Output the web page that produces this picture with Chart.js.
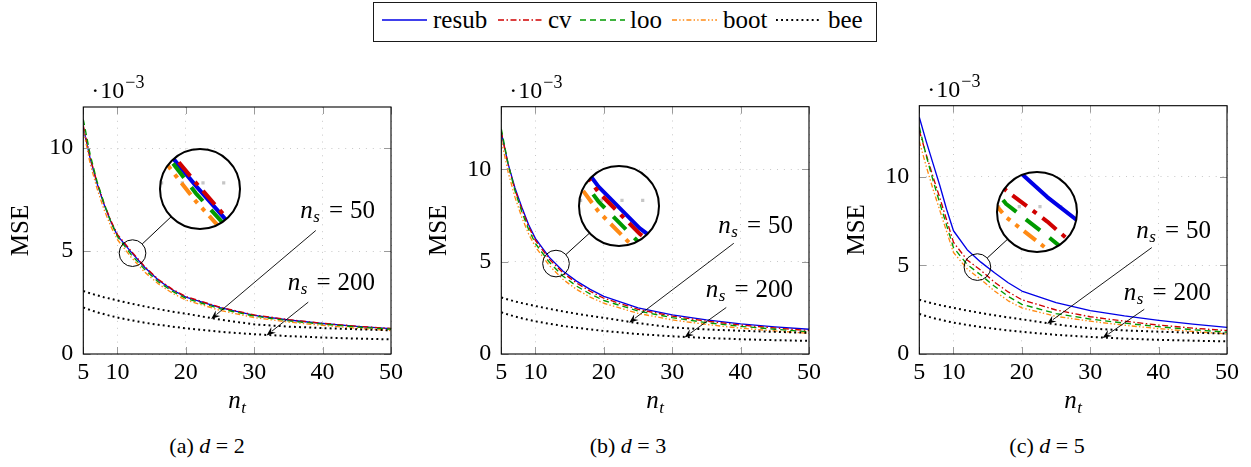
<!DOCTYPE html>
<html>
<head>
<meta charset="utf-8">
<title>MSE vs n_t</title>
<script src="https://cdn.jsdelivr.net/npm/chart.js@4/dist/chart.umd.min.js"></script>
<style>
html,body{margin:0;padding:0;background:#fff;}
body{width:1251px;height:467px;position:relative;overflow:hidden;font-family:"Liberation Serif","DejaVu Serif","Times New Roman",serif;color:#000;}
.pane{position:absolute;top:60px;width:410px;height:370px;}
.pane canvas{position:absolute;left:0;top:0;}
.spy{position:absolute;width:80px;height:80px;border-radius:50%;overflow:hidden;background:#fff;}
.spy canvas{position:absolute;left:0;top:0;}
.ring{position:absolute;width:82px;height:82px;border-radius:50%;border:2.5px solid #000;box-sizing:border-box;}
#legendBox{position:absolute;left:373px;top:2px;width:504px;height:40px;border:1.3px solid #1a1a1a;box-sizing:border-box;}
.lgText{position:absolute;top:7px;font-size:25px;line-height:25px;white-space:nowrap;}
.lgLine{position:absolute;top:15px;}
.cap{position:absolute;top:435px;font-size:22px;line-height:22px;white-space:nowrap;transform:translateX(-50%);}
</style>
</head>
<body>
<div id="legendBox"></div>
<script>
// ---------------- data ----------------
const ntValues    = [5, 6, 7, 8, 9, 10, 12, 14, 16, 18, 20, 25, 30, 35, 40, 45, 50];
const xTickValues = [5, 10, 20, 30, 40, 50];
const yTickValues = [0, 5, 10];
const seriesNames = ['resub', 'cv', 'loo', 'boot', 'bee'];
const panelLetters = ['a', 'b', 'c'];
const dValues = [2, 3, 5];
const yMaxValues = [12, 13.4, 14];
const nsLabels = ['50', '200'];

// d = 2
const resubD2 = [11.0, 9.5, 8.3, 7.3, 6.45, 5.75, 4.95, 4.2, 3.58, 3.12, 2.76, 2.25, 1.88, 1.65, 1.48, 1.34, 1.23];
const cvD2    = [11.1, 9.55, 8.35, 7.35, 6.5, 5.8, 5.0, 4.24, 3.62, 3.15, 2.79, 2.27, 1.9, 1.67, 1.49, 1.35, 1.24];
const looD2   = [11.4, 9.7, 8.4, 7.35, 6.45, 5.7, 4.83, 4.1, 3.5, 3.05, 2.7, 2.2, 1.84, 1.61, 1.45, 1.31, 1.2];
const bootD2  = [10.9, 9.25, 8.05, 7.05, 6.22, 5.55, 4.7, 3.97, 3.4, 2.96, 2.62, 2.12, 1.77, 1.55, 1.39, 1.25, 1.14];
// d = 3
const resubD3 = [12.0, 10.3, 9.0, 7.95, 7.0, 6.25, 5.25, 4.5, 3.95, 3.5, 3.12, 2.5, 2.12, 1.85, 1.63, 1.47, 1.34];
const cvD3    = [12.05, 10.25, 8.9, 7.85, 6.9, 6.15, 5.15, 4.4, 3.85, 3.4, 3.02, 2.42, 2.05, 1.78, 1.57, 1.41, 1.27];
const looD3   = [12.2, 10.3, 8.85, 7.7, 6.75, 5.98, 4.98, 4.23, 3.68, 3.25, 2.9, 2.33, 1.97, 1.7, 1.5, 1.34, 1.2];
const bootD3  = [11.6, 9.85, 8.5, 7.4, 6.5, 5.8, 4.8, 4.05, 3.5, 3.08, 2.75, 2.2, 1.85, 1.6, 1.4, 1.25, 1.12];
// d = 5
const resubD5 = [13.35, 12.0, 10.75, 9.5, 8.15, 6.95, 5.88, 5.18, 4.58, 4.02, 3.55, 2.9, 2.45, 2.15, 1.9, 1.68, 1.5];
const cvD5    = [12.6, 11.25, 10.0, 8.8, 7.55, 6.3, 5.3, 4.72, 4.05, 3.5, 3.06, 2.48, 2.1, 1.85, 1.63, 1.46, 1.32];
const looD5   = [12.8, 11.2, 9.8, 8.5, 7.25, 6.0, 5.05, 4.45, 3.82, 3.25, 2.8, 2.28, 1.97, 1.74, 1.54, 1.37, 1.23];
const bootD5  = [12.0, 10.6, 9.3, 8.1, 6.9, 5.72, 4.8, 4.2, 3.55, 3.0, 2.6, 2.12, 1.85, 1.62, 1.43, 1.27, 1.13];
// bee (same in all panels)
const beeNs50  = [3.06, 2.95, 2.85, 2.76, 2.68, 2.6, 2.45, 2.31, 2.18, 2.06, 1.96, 1.67, 1.44, 1.33, 1.26, 1.2, 1.15];
const beeNs200 = [2.26, 2.14, 2.03, 1.94, 1.85, 1.77, 1.64, 1.52, 1.42, 1.33, 1.25, 1.08, 0.96, 0.87, 0.8, 0.75, 0.71];

const panelSeries = [
  [resubD2, cvD2, looD2, bootD2],
  [resubD3, cvD3, looD3, bootD3],
  [resubD5, cvD5, looD5, bootD5]
];

// ---------------- layout / style ----------------
const FONT = '"Liberation Serif", "DejaVu Serif", "Times New Roman", serif';
const paneLefts = [0, 418.4, 836];
const plotTops = [107, 106.7, 105.7];
const PANE_TOP = 60;
const spyCenters = [[12.2, 4.9], [13.0, 4.9], [13.5, 4.9]];
const bigCenters = [[22.1, 8.0], [22.2, 8.0], [22.2, 8.0]];
const R_SMALL = 13.33, R_BIG = 40;
const arrowCfg = [
  {from: [39, 6.0], to: [23.7, 1.7], labelY: 7.0},
  {from: [37.9, 2.52], to: [31.8, 0.9], labelY: 3.5}
];
const STY = {
  resub: {color: '#0000e6', dash: [], w: 1.35},
  cv:    {color: '#d00000', dash: [6, 2.5, 1.5, 2.5], w: 1.35},
  loo:   {color: '#009a00', dash: [6, 4], w: 1.35},
  boot:  {color: '#ff8a14', dash: [5, 2.2, 1.4, 2.2, 1.4, 2.2], w: 1.35},
  bee:   {color: '#000000', dash: [1.9, 3.2], w: 2}
};

function mkDataset(name, vals, order, k) {
  const s = STY[name];
  return {
    label: name,
    data: ntValues.map((x, idx) => ({x: x, y: vals[idx]})),
    borderColor: s.color,
    backgroundColor: s.color,
    borderWidth: s.w * k,
    borderDash: s.dash.map(v => v * k),
    borderCapStyle: 'butt',
    borderJoinStyle: 'round',
    pointRadius: 0,
    fill: false,
    tension: 0,
    order: order
  };
}
function buildDatasets(i, k) {
  const ser = panelSeries[i];
  const ds = [];
  for (let j = 0; j < 4; j++) ds.push(mkDataset(seriesNames[j], ser[j], 5 - j, k));
  ds.push(mkDataset('bee', beeNs50, 0, k));
  ds.push(mkDataset('bee', beeNs200, 0, k));
  return ds;
}

function drawRuns(ctx, runs, x, y, align) {
  let total = 0;
  runs.forEach(r => { ctx.font = r.font; r.w = ctx.measureText(r.text).width; total += r.w + (r.gap || 0); });
  let cx = align === 'right' ? x - total : (align === 'center' ? x - total / 2 : x);
  runs.forEach(r => { cx += (r.gap || 0); ctx.font = r.font; ctx.fillText(r.text, cx, y + (r.dy || 0)); cx += r.w; });
}

const decor = {
  id: 'decor',
  afterDraw(chart, args, opts) {
    const i = opts.panel;
    const ctx = chart.ctx, a = chart.chartArea, xs = chart.scales.x, ys = chart.scales.y;
    ctx.save();
    ctx.setLineDash([]);
    // tick marks (inward, grey)
    ctx.strokeStyle = '#9a9a9a'; ctx.lineWidth = 1;
    ctx.beginPath();
    xTickValues.forEach(v => {
      const p = Math.round(xs.getPixelForValue(v)) + 0.5;
      ctx.moveTo(p, a.bottom); ctx.lineTo(p, a.bottom - 7);
      ctx.moveTo(p, a.top); ctx.lineTo(p, a.top + 7);
    });
    yTickValues.forEach(v => {
      const p = Math.round(ys.getPixelForValue(v)) + 0.5;
      ctx.moveTo(a.left, p); ctx.lineTo(a.left + 7, p);
      ctx.moveTo(a.right, p); ctx.lineTo(a.right - 7, p);
    });
    ctx.stroke();
    // frame
    ctx.strokeStyle = '#000'; ctx.lineWidth = 1.1;
    ctx.strokeRect(a.left, a.top, a.right - a.left, a.bottom - a.top);

    ctx.fillStyle = '#000'; ctx.textBaseline = 'alphabetic'; ctx.textAlign = 'left';
    // x title n_t
    drawRuns(ctx, [
      {text: 'n', font: 'italic 25px ' + FONT},
      {text: 't', font: 'italic 17px ' + FONT, dy: 5, gap: 0.5}
    ], (a.left + a.right) / 2, a.bottom + 54, 'center');
    // exponent label
    drawRuns(ctx, [
      {text: '\u00b7', font: '24px ' + FONT},
      {text: '10', font: '24px ' + FONT, gap: 1},
      {text: '\u22123', font: '18px ' + FONT, dy: -10, gap: 1}
    ], a.left + 8, a.top - 9, 'left');

    // annotations with arrows
    arrowCfg.forEach((c, k) => {
      const yc = ys.getPixelForValue(c.labelY);
      drawRuns(ctx, [
        {text: 'n', font: 'italic 25px ' + FONT},
        {text: 's', font: 'italic 17px ' + FONT, dy: 4, gap: 0.5},
        {text: '=', font: '25px ' + FONT, gap: 9},
        {text: nsLabels[k], font: '25px ' + FONT, gap: 7}
      ], a.right - 16, yc + 8, 'right');
      const x0 = xs.getPixelForValue(c.from[0]), y0 = ys.getPixelForValue(c.from[1]);
      const x1 = xs.getPixelForValue(c.to[0]), y1 = ys.getPixelForValue(c.to[1]);
      const ang = Math.atan2(y1 - y0, x1 - x0);
      const L = 9, W = 3.6;
      const bx = x1 - L * Math.cos(ang), by = y1 - L * Math.sin(ang);
      ctx.strokeStyle = '#000'; ctx.lineWidth = 0.9;
      ctx.beginPath(); ctx.moveTo(x0, y0); ctx.lineTo(bx + 2 * Math.cos(ang), by + 2 * Math.sin(ang)); ctx.stroke();
      ctx.beginPath();
      ctx.moveTo(x1, y1);
      ctx.lineTo(bx - W * Math.sin(ang), by + W * Math.cos(ang));
      ctx.lineTo(x1 - 0.65 * L * Math.cos(ang), y1 - 0.65 * L * Math.sin(ang));
      ctx.lineTo(bx + W * Math.sin(ang), by - W * Math.cos(ang));
      ctx.closePath(); ctx.fill();
    });

    // spy: small circle + connector
    const sx = xs.getPixelForValue(spyCenters[i][0]), sy = ys.getPixelForValue(spyCenters[i][1]);
    const gx = xs.getPixelForValue(bigCenters[i][0]), gy = ys.getPixelForValue(bigCenters[i][1]);
    const d = Math.hypot(gx - sx, gy - sy), ux = (gx - sx) / d, uy = (gy - sy) / d;
    ctx.strokeStyle = '#000'; ctx.lineWidth = 1;
    ctx.beginPath(); ctx.arc(sx, sy, R_SMALL, 0, Math.PI * 2); ctx.stroke();
    ctx.beginPath();
    ctx.moveTo(sx + ux * R_SMALL, sy + uy * R_SMALL);
    ctx.lineTo(gx - ux * R_BIG, gy - uy * R_BIG);
    ctx.stroke();
    ctx.restore();
  }
};

const insetGrid = {
  id: 'insetGrid',
  beforeDatasetsDraw(chart) {
    const ctx = chart.ctx, xs = chart.scales.x, ys = chart.scales.y;
    ctx.save();
    ctx.strokeStyle = '#c6c6c6'; ctx.lineWidth = 3.2; ctx.setLineDash([3.2, 17.5]);
    yTickValues.forEach(v => {
      if (v > ys.min && v < ys.max) {
        const p = ys.getPixelForValue(v);
        ctx.beginPath(); ctx.moveTo(0, p); ctx.lineTo(chart.width, p); ctx.stroke();
      }
    });
    xTickValues.forEach(v => {
      if (v > xs.min && v < xs.max) {
        const p = xs.getPixelForValue(v);
        ctx.beginPath(); ctx.moveTo(p, 0); ctx.lineTo(p, chart.height); ctx.stroke();
      }
    });
    ctx.restore();
  }
};

function tickSetter(vals) {
  return function (scale) { scale.ticks = vals.map(v => ({value: v})); };
}

function makePanel(i) {
  const pane = document.createElement('div');
  pane.className = 'pane';
  pane.style.left = paneLefts[i] + 'px';
  document.body.appendChild(pane);
  const cv = document.createElement('canvas');
  cv.width = 410; cv.height = 370;
  cv.style.width = '410px'; cv.style.height = '370px';
  pane.appendChild(cv);

  const tickFont = {family: FONT, size: 24};
  const main = new Chart(cv, {
    type: 'line',
    data: {datasets: buildDatasets(i, 1)},
    options: {
      responsive: false, animation: false, devicePixelRatio: 1,
      layout: {padding: {left: 0, right: 19, top: plotTops[i] - PANE_TOP, bottom: 0}},
      plugins: {legend: {display: false}, tooltip: {enabled: false}, decor: {panel: i}},
      scales: {
        x: {
          type: 'linear', min: 5, max: 50,
          afterBuildTicks: tickSetter(xTickValues),
          afterFit: s => { s.height = 76; },
          ticks: {padding: 4, font: tickFont, color: '#000', callback: v => String(v), autoSkip: false, maxRotation: 0},
          grid: {color: '#c8c8c8', lineWidth: 1, drawTicks: false},
          border: {display: false, dash: [1, 5.9]}
        },
        y: {
          type: 'linear', min: 0, max: yMaxValues[i],
          afterBuildTicks: tickSetter(yTickValues),
          afterFit: s => { s.width = 83.3; },
          ticks: {padding: 10, font: tickFont, color: '#000', callback: v => String(v)},
          grid: {color: '#c8c8c8', lineWidth: 1, drawTicks: false},
          border: {display: false, dash: [1, 5.9]},
          title: {display: true, text: 'MSE', color: '#000', font: {family: FONT, size: 25}, padding: {top: 6, bottom: 0}}
        }
      }
    },
    plugins: [decor]
  });

  // magnified inset
  const xs = main.scales.x, ys = main.scales.y;
  const sx = xs.getPixelForValue(spyCenters[i][0]), sy = ys.getPixelForValue(spyCenters[i][1]);
  const gx = xs.getPixelForValue(bigCenters[i][0]), gy = ys.getPixelForValue(bigCenters[i][1]);
  const spy = document.createElement('div');
  spy.className = 'spy';
  spy.style.left = (gx - R_BIG) + 'px';
  spy.style.top = (gy - R_BIG) + 'px';
  pane.appendChild(spy);
  const ic = document.createElement('canvas');
  ic.width = 2 * R_BIG; ic.height = 2 * R_BIG;
  ic.style.width = (2 * R_BIG) + 'px'; ic.style.height = (2 * R_BIG) + 'px';
  spy.appendChild(ic);
  new Chart(ic, {
    type: 'line',
    data: {datasets: buildDatasets(i, 3)},
    options: {
      responsive: false, animation: false, devicePixelRatio: 1,
      layout: {padding: 0},
      plugins: {legend: {display: false}, tooltip: {enabled: false}},
      scales: {
        x: {type: 'linear', display: false, min: xs.getValueForPixel(sx - R_SMALL), max: xs.getValueForPixel(sx + R_SMALL)},
        y: {type: 'linear', display: false, min: ys.getValueForPixel(sy + R_SMALL), max: ys.getValueForPixel(sy - R_SMALL)}
      }
    },
    plugins: [insetGrid]
  });
  const ring = document.createElement('div');
  ring.className = 'ring';
  ring.style.left = (gx - R_BIG - 1) + 'px';
  ring.style.top = (gy - R_BIG - 1) + 'px';
  pane.appendChild(ring);
}

[0, 1, 2].forEach(makePanel);

// ---------------- legend ----------------
const lgLineLeft = [382, 498, 580, 672, 776];
const lgTextLeft = [433, 548, 630, 723, 828];
seriesNames.forEach((name, j) => {
  const s = STY[name];
  const svgNS = 'http://www.w3.org/2000/svg';
  const svg = document.createElementNS(svgNS, 'svg');
  svg.setAttribute('width', '45'); svg.setAttribute('height', '10');
  svg.setAttribute('class', 'lgLine');
  svg.style.left = lgLineLeft[j] + 'px';
  const ln = document.createElementNS(svgNS, 'line');
  ln.setAttribute('x1', '0'); ln.setAttribute('x2', '45');
  ln.setAttribute('y1', '5'); ln.setAttribute('y2', '5');
  ln.setAttribute('stroke', s.color);
  ln.setAttribute('stroke-width', name === 'bee' ? '2' : '1.6');
  if (s.dash.length) ln.setAttribute('stroke-dasharray', s.dash.join(' '));
  svg.appendChild(ln);
  document.body.appendChild(svg);
  const t = document.createElement('div');
  t.className = 'lgText';
  t.style.left = lgTextLeft[j] + 'px';
  t.textContent = name;
  document.body.appendChild(t);
});

// ---------------- captions ----------------
const capCenters = [207, 628, 1047];
panelLetters.forEach((L, i) => {
  const c = document.createElement('div');
  c.className = 'cap';
  c.style.left = capCenters[i] + 'px';
  c.appendChild(document.createTextNode('(' + L + ') '));
  const it = document.createElement('i');
  it.textContent = 'd';
  c.appendChild(it);
  c.appendChild(document.createTextNode(' = ' + dValues[i]));
  document.body.appendChild(c);
});
</script>
</body>
</html>
